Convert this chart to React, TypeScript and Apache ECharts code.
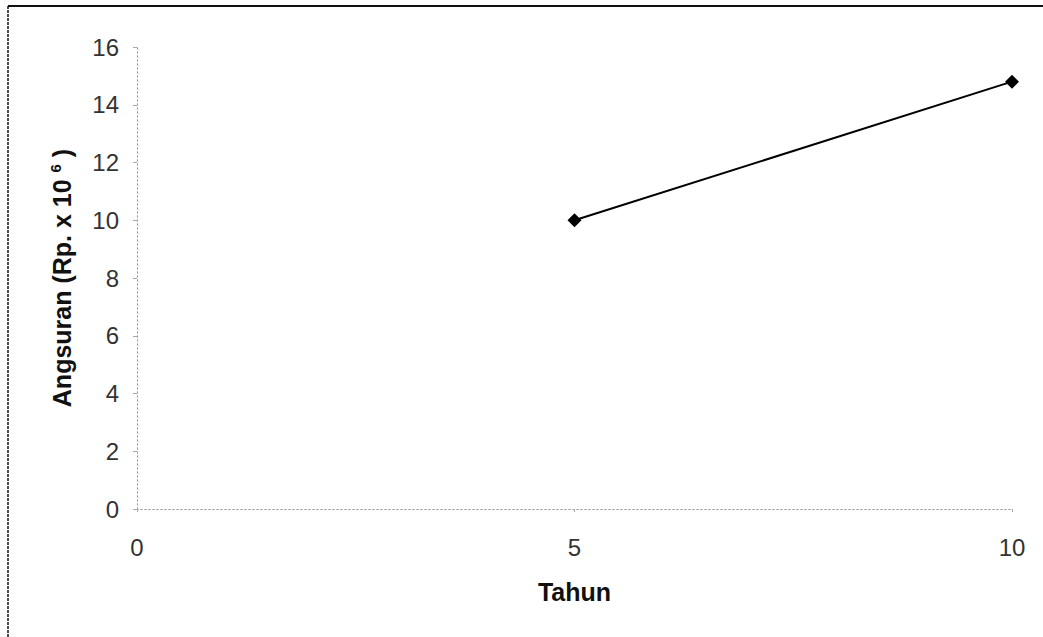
import React, { useEffect, useRef } from "react";
import * as echarts from "echarts";

const years = [5, 10];
const installments = [10, 14.8];
const yTicks = [0, 2, 4, 6, 8, 10, 12, 14, 16];
const xTicks = [0, 5, 10];
const xTitle = "Tahun";
const yTitle = "Angsuran (Rp. x 10 {sup|6} )";

export default function App() {
  const ref = useRef<HTMLDivElement>(null);
  useEffect(() => {
    if (!ref.current) return;
    const chart = echarts.init(ref.current, undefined, { renderer: "svg" });
    const font = "'Liberation Sans', Arial, sans-serif";
    const dotted = { show: true, lineStyle: { color: "#999", width: 1, type: [1, 3] as any } };
    chart.setOption({
      animation: false,
      backgroundColor: "#fff",
      textStyle: { fontFamily: font },
      grid: { left: 137, right: 31, top: 47, bottom: 128 },
      xAxis: [
        {
          type: "value",
          min: xTicks[0],
          max: xTicks[xTicks.length - 1],
          interval: 5,
          name: xTitle,
          nameLocation: "middle",
          nameGap: 70,
          nameTextStyle: { fontSize: 25, fontWeight: "bold", color: "#111", fontFamily: font },
          axisLine: dotted,
          axisTick: { show: true, length: 3, lineStyle: { color: "#aaa" } },
          axisLabel: { fontSize: 24, color: "#333", margin: 26, fontFamily: font },
          splitLine: { show: false },
        },
        {
          type: "value",
          position: "top",
          min: 0,
          max: 10,
          axisLine: dotted,
          axisTick: { show: false },
          axisLabel: { show: false },
          splitLine: { show: false },
        },
      ],
      yAxis: [
        {
          type: "value",
          min: yTicks[0],
          max: yTicks[yTicks.length - 1],
          interval: 2,
          name: yTitle,
          nameLocation: "middle",
          nameGap: 62,
          nameTextStyle: {
            fontSize: 25,
            fontWeight: "bold",
            color: "#111",
            fontFamily: font,
            rich: { sup: { fontSize: 15, fontWeight: "bold", color: "#111", verticalAlign: "top", padding: [0, 0, 12, 0] } },
          },
          axisLine: dotted,
          axisTick: { show: true, length: 4, lineStyle: { color: "#aaa" } },
          axisLabel: { fontSize: 24, color: "#333", margin: 18, fontFamily: font },
          splitLine: { show: false },
        },
        {
          type: "value",
          position: "right",
          min: 0,
          max: 16,
          axisLine: dotted,
          axisTick: { show: false },
          axisLabel: { show: false },
          splitLine: { show: false },
        },
      ],
      series: [
        {
          type: "line",
          data: years.map((x, i) => [x, installments[i]]),
          symbol: "diamond",
          symbolSize: 14,
          itemStyle: { color: "#000" },
          lineStyle: { color: "#000", width: 2 },
        },
      ],
      graphic: [
        { type: "line", shape: { x1: 8, y1: 6, x2: 1043, y2: 6 }, style: { stroke: "#111", lineWidth: 2 } },
        { type: "line", shape: { x1: 8, y1: 6, x2: 8, y2: 637 }, style: { stroke: "#111", lineWidth: 1.5, lineDash: [3, 1] } },
      ],
    });
    return () => chart.dispose();
  }, []);
  return <div ref={ref} style={{ position: "fixed", left: 0, top: 0, width: 1043, height: 637 }} />;
}
